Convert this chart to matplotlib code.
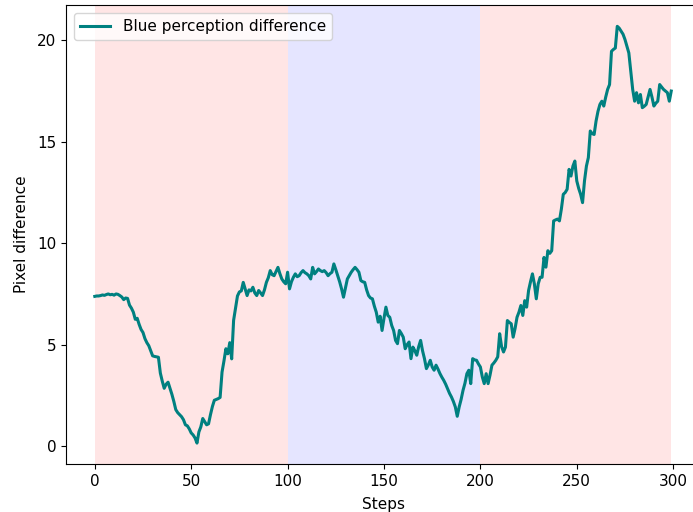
import numpy as np
import matplotlib
matplotlib.use("Agg")
import matplotlib.pyplot as plt


# Blue perception difference per step
BLUE_DIFF = [
	7.38, 7.40, 7.40, 7.42, 7.45, 7.43, 7.47, 7.50, 7.46, 7.48,
	7.44, 7.50, 7.48, 7.42, 7.35, 7.22, 7.30, 7.28, 6.95, 6.80,
	6.60, 6.25, 6.30, 6.00, 5.75, 5.60, 5.30, 5.10, 4.95, 4.70,
	4.45, 4.42, 4.40, 4.38, 3.60, 3.20, 2.85, 3.05, 3.15, 2.85,
	2.55, 2.20, 1.80, 1.65, 1.55, 1.45, 1.30, 1.05, 1.00, 0.85,
	0.65, 0.55, 0.40, 0.15, 0.70, 0.95, 1.36, 1.20, 1.05, 1.10,
	1.55, 1.95, 2.26, 2.30, 2.34, 2.40, 3.65, 4.20, 4.80, 4.55,
	5.10, 4.30, 6.20, 6.80, 7.40, 7.60, 7.65, 8.07, 7.75, 7.42,
	7.70, 7.65, 7.83, 7.55, 7.42, 7.67, 7.55, 7.42, 7.70, 8.07,
	8.30, 8.65, 8.45, 8.40, 8.60, 8.81, 8.50, 8.24, 8.10, 8.00,
	8.57, 7.75, 8.10, 8.32, 8.49, 8.35, 8.40, 8.55, 8.65, 8.55,
	8.49, 8.40, 8.24, 8.81, 8.49, 8.60, 8.73, 8.65, 8.60, 8.65,
	8.55, 8.40, 8.50, 8.57, 8.98, 8.70, 8.40, 8.10, 7.75, 7.34,
	7.80, 8.24, 8.40, 8.57, 8.70, 8.81, 8.70, 8.57, 8.16, 8.10,
	8.07, 7.70, 7.42, 7.30, 7.26, 6.90, 6.60, 6.11, 6.40, 5.70,
	6.30, 6.85, 6.44, 6.35, 5.95, 5.70, 5.21, 5.05, 5.70, 5.55,
	5.37, 4.80, 5.00, 5.13, 4.31, 4.88, 4.70, 4.48, 4.90, 5.21,
	4.70, 4.31, 3.82, 4.00, 4.23, 3.90, 3.74, 3.99, 3.80, 3.58,
	3.40, 3.24, 3.05, 2.83, 2.60, 2.42, 2.20, 1.93, 1.47, 1.93,
	2.30, 2.75, 3.10, 3.57, 3.74, 3.08, 4.31, 4.25, 4.23, 4.05,
	3.90, 3.41, 3.08, 3.57, 3.08, 3.50, 3.99, 4.10, 4.23, 4.40,
	5.54, 4.90, 4.64, 4.88, 6.19, 6.10, 6.03, 5.37, 5.80, 6.35,
	6.60, 6.93, 6.44, 7.17, 6.85, 7.67, 8.10, 8.49, 8.00, 7.26,
	8.00, 8.32, 8.32, 9.30, 8.82, 9.63, 9.50, 9.63, 11.10, 11.15,
	11.19, 11.10, 11.68, 12.41, 12.50, 12.66, 13.64, 13.31, 13.80, 14.05,
	13.07, 12.70, 12.41, 12.00, 13.07, 13.80, 14.22, 15.53, 15.40, 15.36,
	16.02, 16.50, 16.84, 17.00, 16.76, 17.20, 17.58, 17.82, 19.46, 19.55,
	19.62, 20.69, 20.60, 20.45, 20.30, 20.04, 19.70, 19.38, 18.48, 17.58,
	17.00, 17.42, 16.92, 17.33, 16.68, 16.75, 16.84, 17.20, 17.58, 17.20,
	16.76, 16.90, 17.00, 17.82, 17.70, 17.58, 17.50, 17.42, 17.00, 17.50,
]

# Shaded phases: (start, end, colour)
PHASE_STARTS = [0, 100, 200]
PHASE_ENDS = [100, 200, 299]
PHASE_COLORS = ["red", "blue", "red"]

X_TICKS = [0, 50, 100, 150, 200, 250, 300]
Y_TICKS = [0, 5, 10, 15, 20]


def main() -> None:
	plt.rcParams["font.size"] = 11
	steps = np.arange(len(BLUE_DIFF))

	fig = plt.figure(figsize=(6.93, 5.12), dpi=100)
	axis = fig.add_axes([0.0952, 0.0938, 0.915, 0.896])

	for start, end, color in zip(PHASE_STARTS, PHASE_ENDS, PHASE_COLORS):
		axis.axvspan(start, end, color=color, alpha=0.1, linewidth=0)

	axis.plot(steps, BLUE_DIFF, color="teal", linewidth=2.2, label="Blue perception difference")

	axis.set_xlim(-14.95, 313.95)
	axis.set_ylim(-0.88, 21.73)
	axis.set_xticks(X_TICKS)
	axis.set_yticks(Y_TICKS)
	axis.set_xlabel("Steps", labelpad=6)
	axis.set_ylabel("Pixel difference", labelpad=6)
	axis.legend(loc="upper left")

	fig.savefig("out.png", dpi=100)


if __name__ == "__main__":
	main()
